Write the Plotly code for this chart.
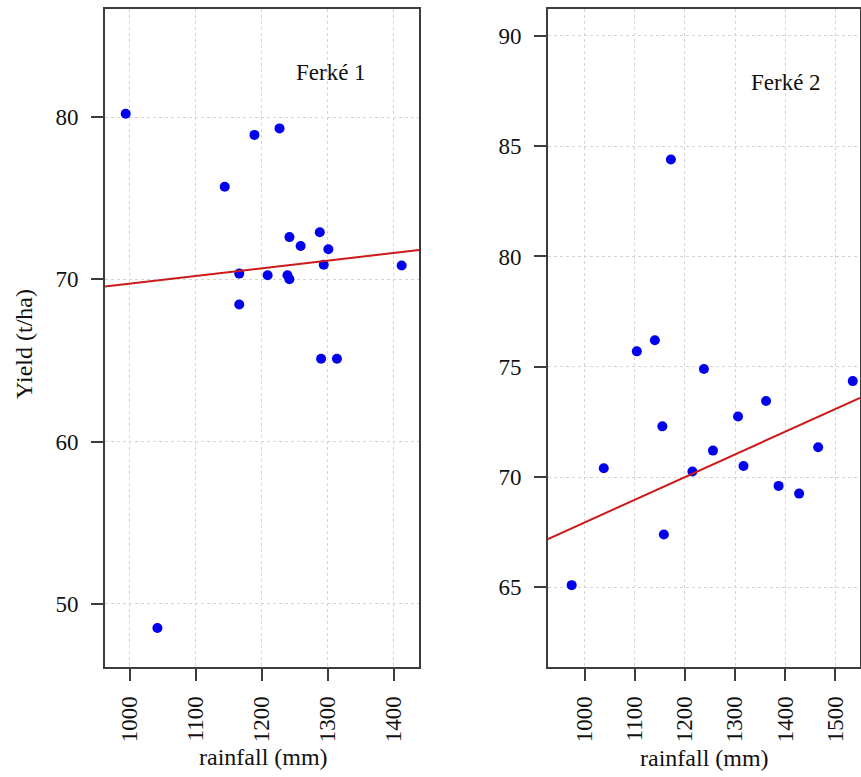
import plotly.graph_objects as go
import numpy as np

# ---------------- data ----------------
site_labels = ["Ferké 1", "Ferké 2"]

rain_f1 = [994, 1189, 1227, 1144, 1242, 1259, 1288, 1301, 1294, 1412,
           1166, 1209, 1239, 1242, 1166, 1290, 1314, 1042]
yield_f1 = [80.2, 78.9, 79.3, 75.7, 72.6, 72.05, 72.9, 71.85, 70.9, 70.85,
            70.35, 70.25, 70.25, 70.0, 68.45, 65.1, 65.1, 48.5]

rain_f2 = [1172, 1104, 1140, 1238, 1535, 1362, 1306, 1155, 1256, 1466,
           1038, 1215, 1317, 1387, 1428, 1158, 974]
yield_f2 = [84.4, 75.7, 76.2, 74.9, 74.35, 73.45, 72.75, 72.3, 71.2, 71.35,
            70.4, 70.25, 70.5, 69.6, 69.25, 67.4, 65.1]

# fitted regression (intercept, slope)
fit_f1 = [65.0, 0.00473]
fit_f2 = [57.67, 0.010275]

xrange_f1 = [962.6, 1438.3]
yrange_f1 = [46.1, 86.66]
xrange_f2 = [926.7, 1549.5]
yrange_f2 = [61.39, 91.22]

xticks_f1 = [1000, 1100, 1200, 1300, 1400]
yticks_f1 = [50, 60, 70, 80]
xticks_f2 = [1000, 1100, 1200, 1300, 1400, 1500]
yticks_f2 = [65, 70, 75, 80, 85, 90]

# ---------------- figure ----------------
W, H = 861, 777
FONT = '"Liberation Serif", "Times New Roman", Times, serif'
AX = "#3c3c3c"
GRID = "#d4d4d4"
PT = "#0000ee"
LINE = "#cc1a1a"

fig = go.Figure()

def add_panel(rx, ry, fit, xr, xa, ya):
    fig.add_trace(go.Scatter(x=rx, y=ry, mode="markers",
                             marker=dict(color=PT, size=10, line=dict(width=0)),
                             xaxis=xa, yaxis=ya, showlegend=False))
    lx = np.array(xr)
    ly = fit[0] + fit[1] * lx
    fig.add_trace(go.Scatter(x=lx, y=ly, mode="lines",
                             line=dict(color=LINE, width=2),
                             xaxis=xa, yaxis=ya, showlegend=False))

add_panel(rain_f1, yield_f1, fit_f1, xrange_f1, "x", "y")
add_panel(rain_f2, yield_f2, fit_f2, xrange_f2, "x2", "y2")

ydom = [1 - 667 / H, 1 - 9 / H]
common_axis = dict(showline=True, linecolor=AX, linewidth=2, mirror=True,
                   ticks="outside", ticklen=12, tickwidth=2, tickcolor=AX,
                   showgrid=True, gridcolor=GRID, griddash="dot", gridwidth=1,
                   zeroline=False, tickfont=dict(family=FONT, size=23, color="#111"))

fig.update_layout(
    width=W, height=H, margin=dict(l=0, r=0, t=0, b=0),
    paper_bgcolor="white", plot_bgcolor="white",
    font=dict(family=FONT),
    xaxis=dict(common_axis, domain=[105 / W, 419 / W], range=xrange_f1,
               tickvals=xticks_f1, tickangle=-90, anchor="y",
               ticklabelstandoff=6),
    yaxis=dict(common_axis, domain=ydom, range=yrange_f1,
               tickvals=yticks_f1, anchor="x", ticklabelstandoff=8),
    xaxis2=dict(common_axis, domain=[548 / W, 860 / W], range=xrange_f2,
                tickvals=xticks_f2, tickangle=-90, anchor="y2",
                ticklabelstandoff=6),
    yaxis2=dict(common_axis, domain=ydom, range=yrange_f2,
                tickvals=yticks_f2, anchor="x2", ticklabelstandoff=8),
)

def ann(text, px, py, size=24, angle=0):
    fig.add_annotation(text=text, x=px / W, y=1 - py / H, xref="paper", yref="paper",
                       showarrow=False, textangle=angle,
                       font=dict(family=FONT, size=size, color="#111"),
                       xanchor="center", yanchor="middle")

ann("rainfall (mm)", 263, 757)
ann("rainfall (mm)", 704, 758)
ann("Yield (t/ha)", 24, 344, angle=-90)
ann(site_labels[0], 331, 72, size=23)
ann(site_labels[1], 786, 83, size=23)

fig.write_html("out.html")
